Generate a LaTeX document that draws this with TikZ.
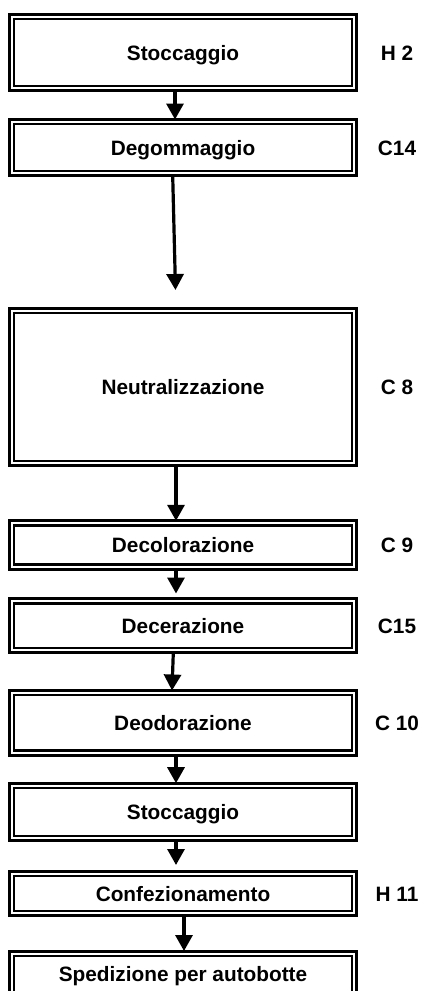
\documentclass[tikz,border=0pt]{standalone}
\usepackage{fontspec}
\setmainfont{Liberation Sans}
\usetikzlibrary{arrows.meta,calc}

\begin{document}
\begin{tikzpicture}[x=1pt,y=-1pt,
  stepbox/.style={draw, line width=3pt, minimum width=347pt, inner sep=0pt,
    outer sep=0pt, text height=14.9pt, text depth=0pt,
    font=\bfseries\fontsize{20.8}{24}\selectfont},
  innerline/.style={line width=2.2pt},
  codelabel/.style={inner sep=0pt, text height=14.9pt, text depth=0pt,
    font=\bfseries\fontsize{20.8}{24}\selectfont},
  flow/.style={line width=3.2pt, -{Triangle[length=16pt,width=17pt]}}]

\useasboundingbox (0,0) rectangle (421,991);
\clip (0,0) rectangle (421,991);

% process steps (outer frame)
\node[stepbox, minimum height=76.3pt]  (n1) at (183,52.65)  {Stoccaggio};
\node[stepbox, minimum height=56.3pt]  (n2) at (183,147.65) {Degommaggio};
\node[stepbox, minimum height=157.6pt] (n3) at (183,387)    {Neutralizzazione};
\node[stepbox, minimum height=48.4pt]  (n4) at (183,545)    {Decolorazione};
\node[stepbox, minimum height=54pt]    (n5) at (183,625.8)  {Decerazione};
\node[stepbox, minimum height=64.7pt]  (n6) at (183,722.85) {Deodorazione};
\node[stepbox, minimum height=57.6pt]  (n7) at (183,812)    {Stoccaggio};
\node[stepbox, minimum height=44.3pt]  (n8) at (183,893.65) {Confezionamento};
\node[stepbox, minimum height=46pt]    (n9) at (183,974)    {Spedizione per autobotte};

% inner frame of every step
\foreach \n in {n1,n2,n3,n4,n5,n6,n7,n8,n9}
  \draw[innerline] ($(\n.north west)+(4.7,4.7)$) rectangle ($(\n.south east)+(-4.7,-4.7)$);

% codes beside the steps
\node[codelabel] (c1) at (397,52.65)  {H 2};
\node[codelabel] (c2) at (397,147.65) {C14};
\node[codelabel] (c3) at (397,387)    {C 8};
\node[codelabel] (c4) at (397,545)    {C 9};
\node[codelabel] (c5) at (397,625.8)  {C15};
\node[codelabel] (c6) at (397,722.85) {C 10};
\node[codelabel] (c8) at (397,893.65) {H 11};

% free ends of arrows that stop short of the next step
\coordinate (e2) at (175.5,290);
\coordinate (e4) at (176,593.5);
\coordinate (e7) at (176,865);

% flow arrows
\draw[flow] ($(n1.south)+(-8,0)$)   -- ($(n2.north)+(-8,0)$);
\draw[flow] ($(n2.south)+(-10.3,0)$) -- (e2);
\draw[flow] ($(n3.south)+(-7,0)$)   -- ($(n4.north)+(-7,0)$);
\draw[flow] ($(n4.south)+(-7,0)$)   -- (e4);
\draw[flow] ($(n5.south)+(-9.7,0)$) -- ($(n6.north)+(-11,0)$);
\draw[flow] ($(n6.south)+(-7,0)$)   -- ($(n7.north)+(-7,0)$);
\draw[flow] ($(n7.south)+(-7,0)$)   -- (e7);
\draw[flow] ($(n8.south)+(1,0)$)    -- ($(n9.north)+(1,0)$);
\end{tikzpicture}
\end{document}
